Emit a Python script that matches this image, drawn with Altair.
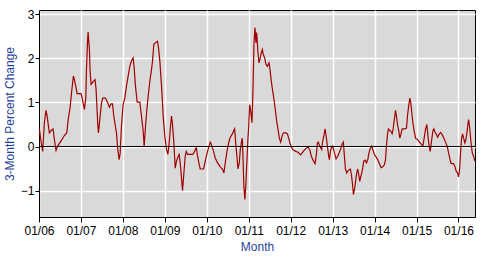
import altair as alt
import pandas as pd

# time in years since 2006-01-01
years_since_2006 = [
    0.009, 0.048, 0.088, 0.128, 0.168, 0.192, 0.247, 0.287, 0.335, 0.367,
    0.406, 0.446, 0.526, 0.605, 0.661, 0.701, 0.741, 0.780, 0.820, 0.844,
    0.884, 0.908, 1.003, 1.043, 1.083, 1.115, 1.131, 1.154, 1.170, 1.186,
    1.202, 1.218, 1.242, 1.282, 1.337, 1.361, 1.401, 1.417, 1.449, 1.489,
    1.520, 1.584, 1.640, 1.679, 1.719, 1.751,
    1.783, 1.815, 1.847, 1.878, 1.910, 1.934, 1.966, 2.005, 2.045, 2.085,
    2.125, 2.165, 2.205, 2.244, 2.268, 2.300, 2.340, 2.403, 2.443, 2.483,
    2.507, 2.539, 2.578, 2.602, 2.642, 2.682, 2.706, 2.737, 2.777, 2.825,
    2.849, 2.881, 2.921, 2.960, 3.000, 3.040, 3.072, 3.103, 3.135, 3.159,
    3.183, 3.215, 3.247, 3.278, 3.318, 3.342, 3.374, 3.406, 3.422, 3.454,
    3.485, 3.509, 3.541, 3.668, 3.708, 3.748, 3.780, 3.819, 3.843, 3.923,
    3.963, 4.018, 4.058, 4.082, 4.106, 4.162, 4.201, 4.257, 4.321, 4.376,
    4.408, 4.440, 4.480, 4.520, 4.559, 4.599, 4.639, 4.663, 4.695, 4.718,
    4.742, 4.774, 4.798, 4.822, 4.846, 4.862, 4.885, 4.909, 4.933, 4.957,
    4.981, 4.997, 5.021, 5.036, 5.052, 5.076, 5.092, 5.108, 5.124, 5.148,
    5.172, 5.188, 5.204, 5.220, 5.243, 5.267, 5.299, 5.323, 5.347, 5.379,
    5.411, 5.442, 5.482, 5.506, 5.538, 5.570, 5.601, 5.633, 5.665, 5.697,
    5.729, 5.761, 5.792, 5.824, 5.888, 5.920, 5.952, 5.983, 6.015, 6.063,
    6.119, 6.174, 6.238, 6.278, 6.317, 6.381, 6.413, 6.453, 6.492, 6.540,
    6.580, 6.612, 6.636, 6.659, 6.691, 6.739, 6.755, 6.795, 6.819, 6.843,
    6.874, 6.906, 6.922, 6.946, 6.970, 7.002, 7.041, 7.081, 7.121, 7.161,
    7.200, 7.224, 7.256, 7.280, 7.304, 7.336, 7.360, 7.399, 7.423, 7.447,
    7.471, 7.495, 7.527, 7.551, 7.574, 7.598, 7.622, 7.646, 7.670, 7.694,
    7.718, 7.741, 7.773, 7.805, 7.837, 7.861, 7.893, 7.932, 7.956, 7.996,
    8.036, 8.076, 8.115, 8.155, 8.195, 8.235, 8.259, 8.282, 8.306, 8.330,
    8.354, 8.386, 8.418, 8.442, 8.465, 8.481, 8.497, 8.521, 8.545, 8.577,
    8.601, 8.625, 8.656, 8.720, 8.760, 8.784, 8.816, 8.839, 8.863, 8.887,
    8.911, 8.943, 8.975, 9.022, 9.070, 9.118, 9.150, 9.181, 9.213, 9.245,
    9.269, 9.293, 9.325, 9.356, 9.388, 9.412, 9.444, 9.476, 9.500, 9.532,
    9.571, 9.611, 9.651, 9.690, 9.730, 9.762, 9.794, 9.826, 9.881, 9.913,
    9.945, 9.977, 10.001, 10.025, 10.049, 10.073, 10.097, 10.121, 10.152, 10.176,
    10.200, 10.224, 10.239, 10.263, 10.295, 10.327, 10.359, 10.391,
]

pct_change = [
    0.40, 0.12, -0.11, 0.54, 0.82, 0.70, 0.31, 0.36, 0.40, 0.16,
    -0.09, 0.01, 0.13, 0.25, 0.31, 0.65, 0.88, 1.26, 1.60, 1.52,
    1.33, 1.20, 1.20, 1.03, 0.84, 1.10, 1.71, 2.32, 2.60, 2.40,
    2.20, 1.71, 1.41, 1.46, 1.52, 1.29, 0.50, 0.31, 0.61, 0.99,
    1.10, 1.10, 0.99, 0.89, 0.97, 0.97,
    0.69, 0.50, 0.31, -0.07, -0.30, -0.15, 0.46, 0.95, 1.10, 1.37,
    1.60, 1.82, 1.94, 2.01, 1.79, 1.37, 1.01, 1.01, 0.69, 0.35,
    0.01, 0.46, 0.91, 1.14, 1.48, 1.75, 1.94, 2.32, 2.36, 2.39,
    2.24, 1.94, 1.37, 0.69, 0.23, -0.07, -0.18, 0.08, 0.46, 0.69,
    0.50, 0.08, -0.49, -0.33, -0.22, -0.18, -0.45, -0.83, -1.00, -0.60,
    -0.22, -0.11, -0.18, -0.18, -0.11, -0.02, -0.22, -0.41, -0.51, -0.51,
    -0.33, -0.11, 0.02, 0.10, 0.05, -0.11, -0.26, -0.37, -0.46, -0.52,
    -0.60, -0.37, -0.11, 0.08, 0.21, 0.27, 0.35, 0.40, 0.01, -0.22,
    -0.51, -0.37, -0.07, 0.08, 0.19, -0.22, -0.94, -1.20, -0.83, -0.30,
    0.19, 0.42, 0.95, 0.88, 0.76, 0.54, 0.99, 1.60, 2.32, 2.70,
    2.36, 2.59, 2.36, 2.13, 1.90, 1.98, 2.13, 2.20, 2.09, 2.01,
    1.86, 1.82, 1.90, 1.75, 1.48, 1.26, 1.07, 0.84, 0.58, 0.39,
    0.19, 0.10, 0.23, 0.31, 0.31, 0.29, 0.19, 0.08, -0.01, -0.08,
    -0.11, -0.13, -0.19, -0.14, -0.09, -0.03, -0.01, -0.07, -0.22, -0.33,
    -0.39, -0.18, 0.08, 0.10, 0.01, -0.07, 0.08, 0.27, 0.40, 0.25,
    0.01, -0.22, -0.30, -0.11, -0.03, 0.01, -0.14, -0.28, -0.22, -0.13,
    -0.03, 0.05, 0.10, -0.22, -0.51, -0.60, -0.56, -0.52, -0.51, -0.64,
    -0.83, -1.09, -0.94, -0.75, -0.60, -0.51, -0.64, -0.79, -0.68, -0.60,
    -0.48, -0.33, -0.31, -0.37, -0.30, -0.16, -0.05, 0.01, -0.07, -0.18,
    -0.24, -0.30, -0.39, -0.48, -0.46, -0.41, -0.30, 0.01, 0.27, 0.40,
    0.37, 0.35, 0.29, 0.40, 0.58, 0.70, 0.82, 0.69, 0.50, 0.35,
    0.19, 0.27, 0.40, 0.40, 0.42, 0.70, 0.95, 1.10, 0.99, 0.76,
    0.54, 0.35, 0.19, 0.16, 0.10, 0.05, 0.01, 0.19, 0.39, 0.50,
    0.27, 0.05, -0.11, 0.12, 0.35, 0.40, 0.32, 0.27, 0.21, 0.27,
    0.32, 0.27, 0.19, 0.10, 0.01, -0.14, -0.28, -0.39, -0.39, -0.45,
    -0.56, -0.60, -0.69, -0.52, -0.14, 0.19, 0.29, 0.19, 0.08, 0.16,
    0.31, 0.50, 0.61, 0.46, 0.12, -0.14, -0.22, -0.33,
]

tick_years = list(range(2006, 2017))

start = pd.Timestamp("2006-01-01")
df = pd.DataFrame({
    "date": [start + pd.Timedelta(days=y * 365.25) for y in years_since_2006],
    "value": pct_change,
})

title_blue = "#1f3f9a"
font = "Liberation Sans"

x_enc = alt.X(
    "date:T",
    title="Month",
    scale=alt.Scale(domain=[alt.DateTime(year=2006, month=1, date=1),
                            alt.DateTime(year=2016, month=5, date=24)]),
    axis=alt.Axis(
        format="%m/%y",
        values=[alt.DateTime(year=y, month=1, date=1) for y in tick_years],
        labelPadding=3,
        titlePadding=5,
        tickSize=5,
        labelOverlap=False,
        labelFlush=False,
    ),
)
y_enc = alt.Y(
    "value:Q",
    title="3-Month Percent Change",
    scale=alt.Scale(domain=[-1.6, 3.1], nice=False, zero=False),
    axis=alt.Axis(values=[-1, 0, 1, 2, 3], tickSize=4, labelPadding=1, titlePadding=4,
                  labelOverlap=False, labelFlush=False),
)

line = alt.Chart(df).mark_line(color="#a00000", strokeWidth=1.2).encode(x=x_enc, y=y_enc)

zero = alt.Chart(pd.DataFrame({"value": [0]})).mark_rule(color="black", strokeWidth=1).encode(
    y=alt.Y("value:Q")
)

chart = (
    alt.layer(line, zero)
    .properties(width=436, height=207, autosize=alt.AutoSizeParams(type="none"),
                padding={"left": 39, "top": 10, "right": 26, "bottom": 42})
    .configure_view(fill="#d9d9d9", stroke="black", strokeWidth=1)
    .configure_axis(
        grid=True,
        gridColor="white",
        gridWidth=1.5,
        gridOpacity=1,
        domainColor="black",
        domainWidth=1,
        tickColor="black",
        labelFont=font,
        labelFontSize=12,
        labelColor="black",
        titleFont=font,
        titleFontSize=12,
        titleFontWeight="normal",
        titleColor=title_blue,
    )
)

chart.save("out.html", embed_options={"renderer": "svg", "actions": False})
